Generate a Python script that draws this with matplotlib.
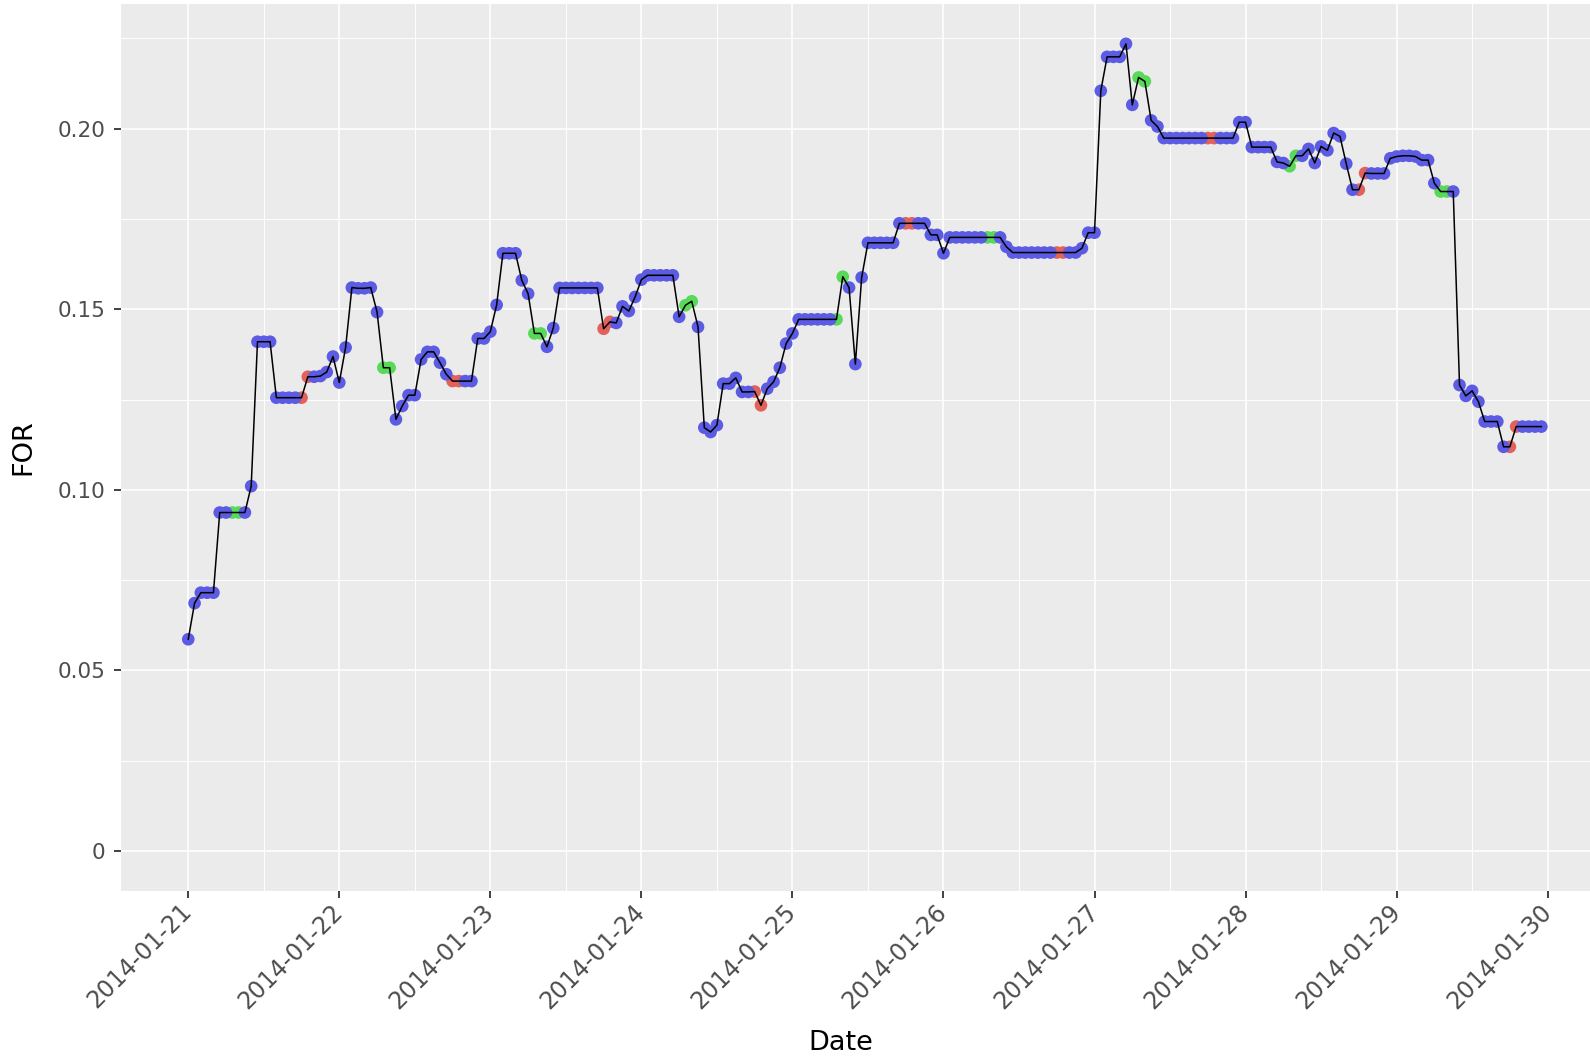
import matplotlib
matplotlib.use("Agg")
import matplotlib.pyplot as plt
import matplotlib.dates as mdates
import numpy as np
import pandas as pd

# hourly FOR values, one list per day (00h..23h)
day21 = [0.0586, 0.0686, 0.0715, 0.0715, 0.0715, 0.0937, 0.0937, 0.0937, 0.0937, 0.0937, 0.1010, 0.1410,
         0.1410, 0.1410, 0.1255, 0.1255, 0.1255, 0.1255, 0.1255, 0.1313, 0.1313, 0.1315, 0.1326, 0.1369]
day22 = [0.1297, 0.1394, 0.1560, 0.1558, 0.1558, 0.1560, 0.1492, 0.1338, 0.1338, 0.1195, 0.1232, 0.1262,
         0.1262, 0.1361, 0.1382, 0.1382, 0.1352, 0.1320, 0.1301, 0.1301, 0.1301, 0.1301, 0.1419, 0.1419]
day23 = [0.1438, 0.1512, 0.1655, 0.1655, 0.1655, 0.1580, 0.1543, 0.1433, 0.1433, 0.1396, 0.1448, 0.1559,
         0.1559, 0.1559, 0.1559, 0.1559, 0.1559, 0.1559, 0.1446, 0.1465, 0.1462, 0.1508, 0.1495, 0.1534]
day24 = [0.1582, 0.1594, 0.1594, 0.1594, 0.1594, 0.1594, 0.1479, 0.1511, 0.1522, 0.1451, 0.1172, 0.1160,
         0.1179, 0.1294, 0.1294, 0.1310, 0.1271, 0.1271, 0.1272, 0.1234, 0.1280, 0.1299, 0.1338, 0.1405]
day25 = [0.1433, 0.1472, 0.1472, 0.1472, 0.1472, 0.1472, 0.1472, 0.1472, 0.1590, 0.1560, 0.1348, 0.1588,
         0.1684, 0.1684, 0.1684, 0.1684, 0.1684, 0.1738, 0.1738, 0.1738, 0.1738, 0.1738, 0.1706, 0.1706]
day26 = [0.1655, 0.1699, 0.1699, 0.1699, 0.1699, 0.1699, 0.1699, 0.1699, 0.1699, 0.1699, 0.1673, 0.1657,
         0.1657, 0.1657, 0.1657, 0.1657, 0.1657, 0.1657, 0.1657, 0.1657, 0.1657, 0.1657, 0.1669, 0.1712]
day27 = [0.1712, 0.2105, 0.2199, 0.2199, 0.2199, 0.2235, 0.2066, 0.2142, 0.2131, 0.2023, 0.2006, 0.1974,
         0.1974, 0.1974, 0.1974, 0.1974, 0.1974, 0.1974, 0.1974, 0.1974, 0.1974, 0.1974, 0.1974, 0.2018]
day28 = [0.2018, 0.1949, 0.1949, 0.1949, 0.1949, 0.1908, 0.1905, 0.1896, 0.1925, 0.1925, 0.1944, 0.1905,
         0.1951, 0.1940, 0.1988, 0.1979, 0.1903, 0.1831, 0.1831, 0.1877, 0.1876, 0.1876, 0.1876, 0.1918]
day29 = [0.1923, 0.1925, 0.1925, 0.1923, 0.1913, 0.1913, 0.1849, 0.1826, 0.1826, 0.1826, 0.1290, 0.1260,
         0.1274, 0.1244, 0.1189, 0.1189, 0.1189, 0.1119, 0.1119, 0.1175, 0.1175, 0.1175, 0.1175, 0.1175]

# indices of points flagged in the other two classes
red_idx = [18, 19, 42, 43, 66, 67, 90, 91, 114, 115, 138, 139, 162, 163, 186, 187, 210, 211]
green_idx = [7, 8, 31, 32, 55, 56, 79, 80, 103, 104, 127, 128, 151, 152, 175, 176, 199, 200]

tick_days = ['2014-01-21', '2014-01-22', '2014-01-23', '2014-01-24', '2014-01-25',
             '2014-01-26', '2014-01-27', '2014-01-28', '2014-01-29', '2014-01-30']

vals = np.array(day21 + day22 + day23 + day24 + day25 + day26 + day27 + day28 + day29)
times = pd.date_range('2014-01-21', periods=len(vals), freq='h')
cls = np.full(len(vals), 'blue', dtype=object)
cls[red_idx] = 'red'
cls[green_idx] = 'green'

colors = {'red': '#e2625b', 'green': '#58d958', 'blue': '#5b5be3'}
W, H = 1590, 1060
fig = plt.figure(figsize=(W / 100, H / 100), dpi=100)
ax = fig.add_axes([120.6 / W, 1 - 891.2 / H, 1488.4 / W, 887.7 / H])
ax.set_facecolor('#ebebeb')

tn = mdates.date2num(times)
for c, z in [('red', 2), ('green', 2), ('blue', 3)]:
    m = cls == c
    ax.scatter(tn[m], vals[m], s=83, color=colors[c], edgecolors='none', zorder=z)
ax.plot(tn, vals, color='black', lw=1.1, zorder=4)

pad = 0.05 * (tn[-1] - tn[0])
ax.set_xlim(tn[0] - pad, tn[-1] + pad)
ylo, yhi = min(0, vals.min()), vals.max()
ypad = 0.05 * (yhi - ylo)
ax.set_ylim(ylo - ypad, yhi + ypad)

xt = mdates.date2num(pd.to_datetime(tick_days))
ax.set_xticks(xt)
ax.set_xticklabels(tick_days, rotation=45, ha='right', va='center', rotation_mode='anchor')
ax.set_xticks((xt[:-1] + xt[1:]) / 2, minor=True)
ax.set_yticks([0, 0.05, 0.10, 0.15, 0.20])
ax.set_yticklabels(['0', '0.05', '0.10', '0.15', '0.20'])
ax.set_yticks([0.025, 0.075, 0.125, 0.175, 0.225], minor=True)

ax.grid(which='major', color='white', lw=1.2)
ax.grid(which='minor', color='white', lw=0.7)
ax.set_axisbelow(True)
for s in ax.spines.values():
    s.set_visible(False)
ax.tick_params(which='major', length=5, width=1.3, color='#333333', labelcolor='#4d4d4d')
ax.tick_params(axis='x', which='major', labelsize=17, pad=7)
ax.tick_params(axis='y', which='major', labelsize=15.5, pad=6)
ax.tick_params(which='minor', length=0)

ax.set_xlabel('Date', fontsize=19.5)
ax.set_ylabel('FOR', fontsize=19.5)
ax.xaxis.set_label_coords(0.4837, -0.1566)
ax.yaxis.set_label_coords(-0.0568, 0.5)

fig.savefig('out.png', dpi=100)
